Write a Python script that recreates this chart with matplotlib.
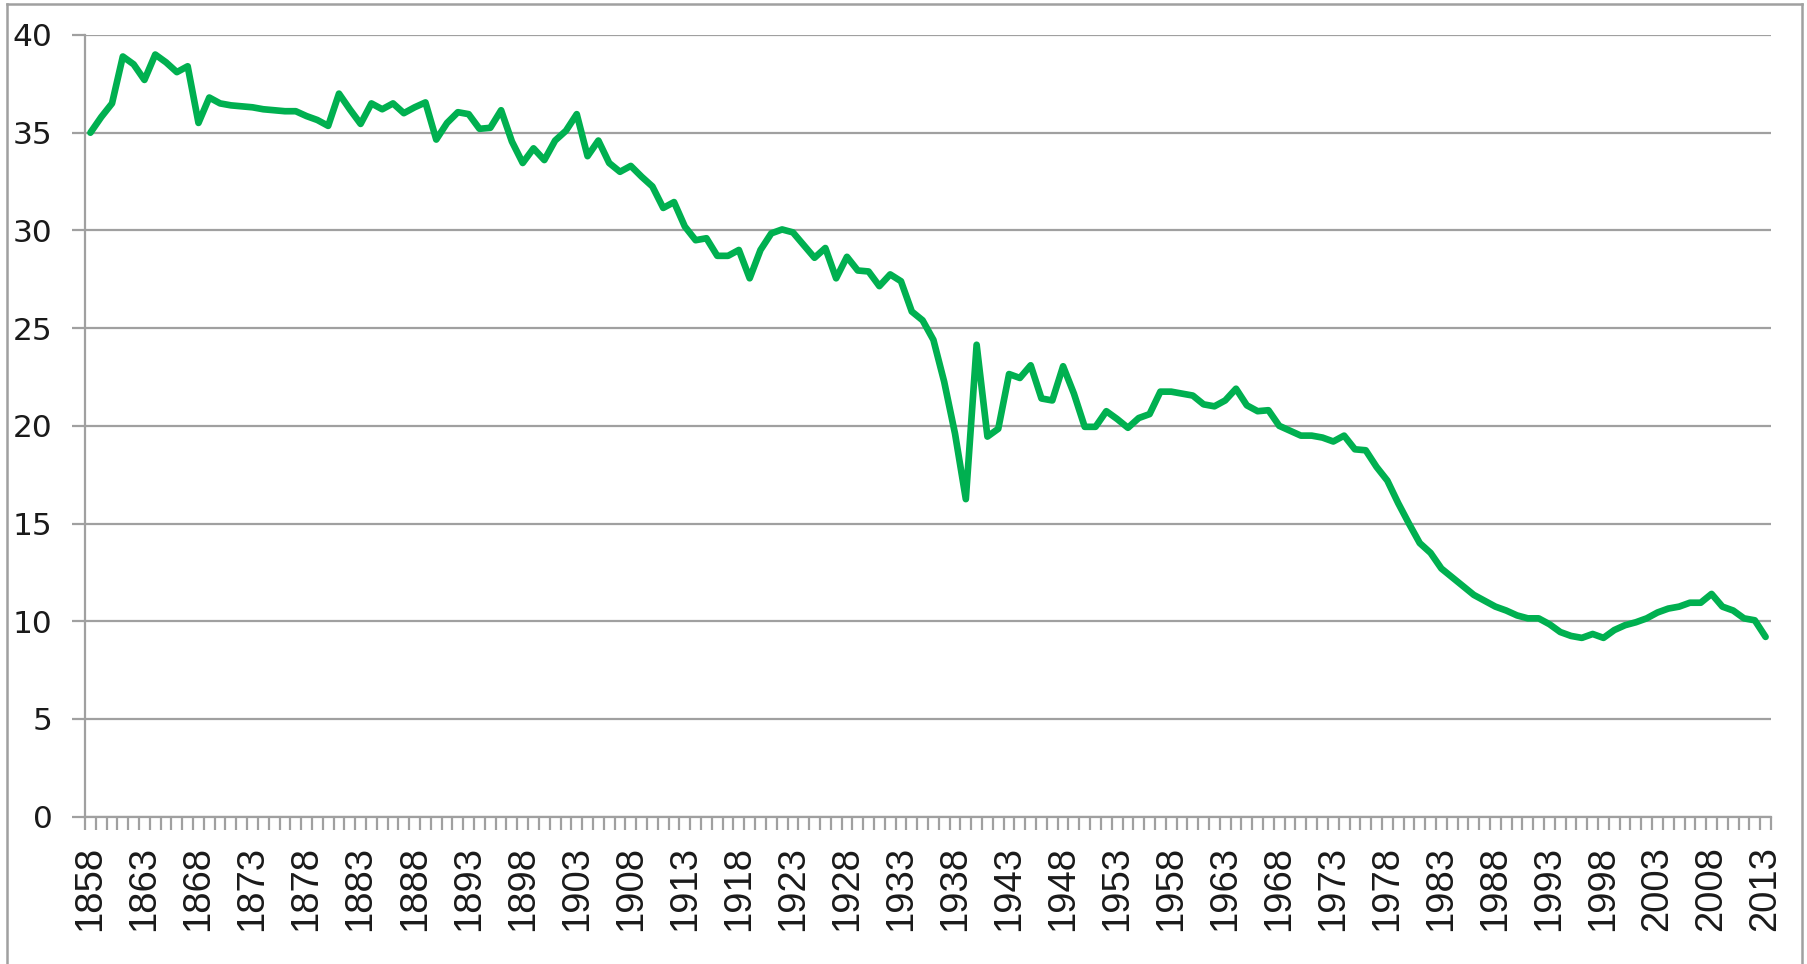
import matplotlib
matplotlib.use("Agg")
import matplotlib.pyplot as plt
from matplotlib.lines import Line2D

years = list(range(1858, 2014))
values = [
    35.0, 35.8, 36.5, 38.9, 38.5, 37.7, 39.0, 38.6, 38.1, 38.4,   # 1858-1867
    35.5, 36.8, 36.5, 36.4, 36.35, 36.3, 36.2, 36.15, 36.1, 36.1,  # 1868-1877
    35.85, 35.65, 35.35, 37.0, 36.2, 35.45, 36.5, 36.2, 36.5, 36.0,  # 1878-1887
    36.3, 36.55, 34.65, 35.5, 36.05, 35.95, 35.2, 35.25, 36.15, 34.55,  # 1888-1897
    33.45, 34.2, 33.6, 34.6, 35.1, 35.95, 33.8, 34.6, 33.45, 33.0,  # 1898-1907
    33.3, 32.75, 32.25, 31.15, 31.45, 30.2, 29.5, 29.6, 28.7, 28.7,  # 1908-1917
    29.0, 27.55, 29.0, 29.85, 30.05, 29.9, 29.25, 28.6, 29.1, 27.55,  # 1918-1927
    28.65, 27.95, 27.9, 27.15, 27.75, 27.4, 25.85, 25.4, 24.4, 22.25,  # 1928-1937
    19.6, 16.25, 24.15, 19.45, 19.85, 22.65, 22.45, 23.1, 21.4, 21.3,  # 1938-1947
    23.05, 21.65, 19.95, 19.95, 20.75, 20.35, 19.9, 20.4, 20.6, 21.75,  # 1948-1957
    21.75, 21.65, 21.55, 21.1, 21.0, 21.3, 21.9, 21.05, 20.75, 20.8,  # 1958-1967
    20.0, 19.75, 19.5, 19.5, 19.4, 19.2, 19.5, 18.8, 18.75, 17.9,  # 1968-1977
    17.2, 16.05, 15.0, 14.0, 13.5, 12.7, 12.25, 11.8, 11.35, 11.05,  # 1978-1987
    10.75, 10.55, 10.3, 10.15, 10.15, 9.85, 9.45, 9.25, 9.15, 9.35,  # 1988-1997
    9.15, 9.55, 9.8, 9.95, 10.15, 10.45, 10.65, 10.75, 10.95, 10.95,  # 1998-2007
    11.4, 10.75, 10.55, 10.15, 10.05, 9.2,  # 2008-2013
]
y_ticks = [0, 5, 10, 15, 20, 25, 30, 35, 40]
label_step = 5

GRAY = "#a0a0a0"
GREEN = "#00b050"

W, H = 1808, 964
fig = plt.figure(figsize=(W / 100, H / 100), dpi=100)
fig.patch.set_facecolor("white")

left, right, top, bottom = 85, 1771, 35, 816.7
ax = fig.add_axes([left / W, 1 - bottom / H, (right - left) / W, (bottom - top) / H])

x = list(range(len(years)))
ax.plot(x, values, color=GREEN, lw=4.8, solid_joinstyle="round", solid_capstyle="round", zorder=3)

ax.set_xlim(-0.5, len(years) - 0.5)
ax.set_ylim(0, 40)

# y axis
ax.set_yticks(y_ticks)
ax.set_yticklabels([str(v) for v in y_ticks], fontsize=22.5, family="DejaVu Sans", color="#1a1a1a")
ax.tick_params(axis="y", which="major", direction="out", length=9.4, width=1.6, color=GRAY, pad=14)
ax.yaxis.grid(True, color=GRAY, lw=1.6)
ax.set_axisbelow(True)

# x axis: labels every 5 years, ticks at every category boundary
major = list(range(0, len(years), label_step))
ax.set_xticks(major)
ax.set_xticklabels([str(years[i]) for i in major], rotation=90, fontsize=27.5, family="Liberation Sans",
                   color="#1a1a1a")
ax.set_xticks([i - 0.5 for i in range(len(years) + 1)], minor=True)
ax.tick_params(axis="x", which="major", length=0, pad=21)
ax.tick_params(axis="x", which="minor", direction="out", length=9.4, width=1.6, color=GRAY)

for s in ["top", "right"]:
    ax.spines[s].set_visible(False)
for s in ["left", "bottom"]:
    ax.spines[s].set_color(GRAY)
    ax.spines[s].set_linewidth(1.6)

# outer chart border
bx0, by0, bx1 = 7 / W, 1 - 4 / H, 1802 / W
for xs, ys in [([bx0, bx0], [0, by0]), ([bx0, bx1], [by0, by0]), ([bx1, bx1], [by0, 0])]:
    fig.add_artist(Line2D(xs, ys, transform=fig.transFigure, color=GRAY, lw=1.8))

fig.savefig("out.png", dpi=100, facecolor="white")
